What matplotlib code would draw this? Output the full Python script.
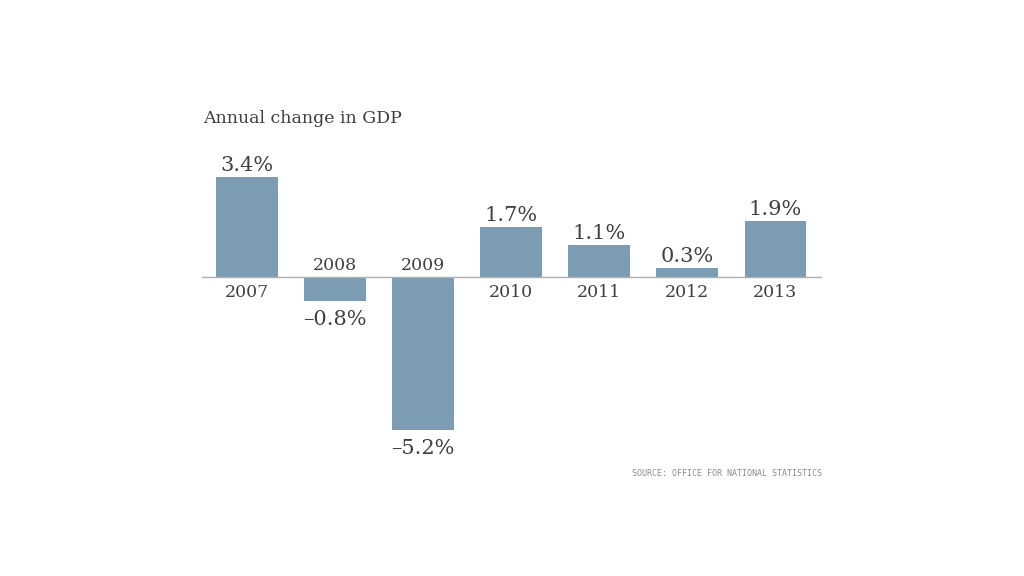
import matplotlib.pyplot as plt

years = ['2007', '2008', '2009', '2010', '2011', '2012', '2013']
gdp_change = [3.4, -0.8, -5.2, 1.7, 1.1, 0.3, 1.9]

bar_color = '#7b9cb2'
text_color = '#404040'
serif = ['DejaVu Serif']

fig = plt.figure(figsize=(10.24, 5.76), dpi=100)
ax = fig.add_axes([202 / 1024, (576 - 460) / 576, 620 / 1024, 320 / 576])

x = list(range(len(years)))
ax.bar(x, gdp_change, width=0.7, color=bar_color, zorder=2)
ax.axhline(0, color='#b0b0b0', lw=1.0, zorder=3)

ax.set_xlim(-0.51, 6.53)
ax.set_ylim(-6.22, 4.66)
ax.axis('off')

for xi, year, v in zip(x, years, gdp_change):
    label = f'{v:.1f}%'.replace('-', '\u2013')
    if v >= 0:
        ax.annotate(label, (xi, v), xytext=(0, 6), textcoords='offset pixels',
                    ha='center', va='baseline', fontsize=15, color=text_color, family=serif)
        ax.annotate(year, (xi, 0), xytext=(0, -20), textcoords='offset pixels',
                    ha='center', va='baseline', fontsize=12.5, color=text_color, family=serif)
    else:
        ax.annotate(label, (xi, v), xytext=(0, -24), textcoords='offset pixels',
                    ha='center', va='baseline', fontsize=15, color=text_color, family=serif)
        ax.annotate(year, (xi, 0), xytext=(0, 7), textcoords='offset pixels',
                    ha='center', va='baseline', fontsize=12.5, color=text_color, family=serif)

fig.text(203 / 1024, 1 - 123 / 576, 'Annual change in GDP', ha='left', va='baseline',
         fontsize=12.5, color=text_color, family=serif)

fig.text(822 / 1024, 1 - 474 / 576, 'SOURCE: OFFICE FOR NATIONAL STATISTICS',
         ha='right', va='center', fontsize=6, color='#8c8c8c', family='DejaVu Sans Mono')

fig.savefig('out.png', dpi=100, facecolor='white')
